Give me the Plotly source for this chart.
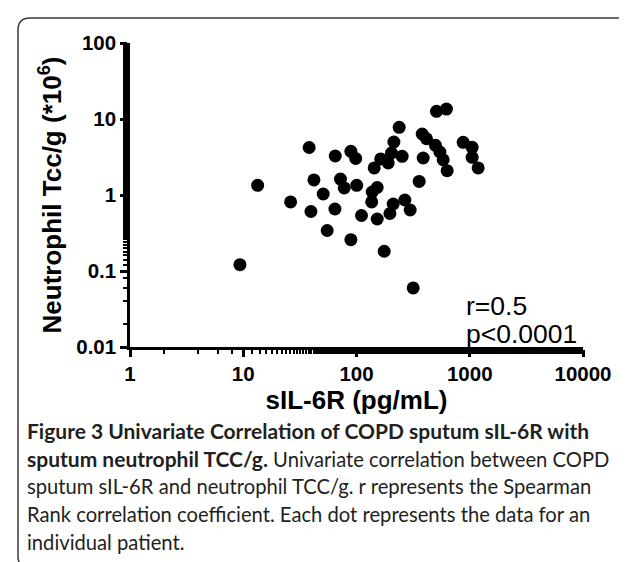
import plotly.graph_objects as go

# sIL-6R (pg/mL) and neutrophil TCC/g (*10^6)
sil6r = [9.35, 13.4, 26.2, 38.2, 42.1, 39.6, 50.8, 55.1, 64.9, 72.2,
         77.9, 64.5, 89.2, 98.4, 100.4, 89.2, 110.7, 137.6, 152.3, 136.2,
         152.3, 143.3, 163.6, 190.5, 203.7, 213.9, 238.2, 253.0, 210.9, 197.2,
         267.3, 297.8, 175.6, 316.5, 357.5, 387.9, 380.2, 415.0, 498.0, 544.7,
         582.4, 631.7, 508.5, 622.7, 874.5, 1050.0, 1050.0, 1186.0]
neut_tcc = [0.121, 1.34, 0.81, 4.22, 1.58, 0.607, 1.03, 0.341, 3.26, 1.62,
            1.24, 0.654, 3.76, 3.02, 1.34, 0.258, 0.537, 1.095, 1.255, 0.81,
            0.483, 2.27, 2.98, 2.64, 3.57, 4.98, 7.78, 3.23, 0.761, 0.571,
            0.86, 0.635, 0.182, 0.0598, 1.51, 3.07, 6.35, 5.5, 4.51, 3.68,
            2.91, 2.09, 12.6, 13.5, 4.94, 4.24, 3.13, 2.27]

x_ticks = [1, 10, 100, 1000, 10000]
x_tick_labels = ["1", "10", "100", "1000", "10000"]
y_ticks = [0.01, 0.1, 1, 10, 100]
y_tick_labels = ["0.01", "0.1", "1", "10", "100"]

stats_lines = ["r=0.5", "p<0.0001"]
B0 = '<span style="font-size:21px"><b>'
B1 = '</b></span>'
caption_lines = [
    B0 + "Figure 3 Univariate Correlation of COPD sputum sIL-6R with" + B1,
    B0 + "sputum neutrophil TCC/g." + B1 + " Univariate correlation between COPD",
    "sputum sIL-6R and neutrophil TCC/g. r represents the Spearman",
    "Rank correlation coefficient. Each dot represents the data for an",
    "individual patient.",
]

W, H = 627, 562
L, R, T, B = 122, 52, 35, 223
PW, PH = W - L - R, H - T - B


def px(xp):
    return (xp - L) / PW


def py(yp):
    return (H - B - yp) / PH


ARIAL = "Liberation Sans, Arial, sans-serif"
axis_font = dict(family=ARIAL, size=20.5, color="black", weight="bold")

fig = go.Figure()
fig.add_trace(go.Scatter(
    x=sil6r, y=neut_tcc, mode="markers",
    marker=dict(size=13, color="black", line=dict(width=0)),
    hoverinfo="x+y",
))

fig.update_xaxes(
    type="log", range=[0, 4], tickvals=x_ticks, ticktext=x_tick_labels,
    showline=True, linecolor="black", linewidth=2.5, mirror=False,
    ticks="outside", ticklen=7, tickwidth=2.5, tickcolor="black",
    minor=dict(ticks="outside", ticklen=4, tickwidth=2, tickcolor="black", showgrid=False),
    showgrid=False, zeroline=False, tickfont=axis_font,
    title=dict(text="<b>sIL-6R (pg/mL)</b>", font=dict(family=ARIAL, size=26, color="black"), standoff=6),
)
fig.update_yaxes(
    type="log", range=[-2, 2], tickvals=y_ticks, ticktext=y_tick_labels,
    showline=True, linecolor="black", linewidth=2.5, mirror=False,
    ticks="outside", ticklen=7, tickwidth=2.5, tickcolor="black",
    minor=dict(ticks="outside", ticklen=4, tickwidth=2, tickcolor="black", showgrid=False),
    showgrid=False, zeroline=False, tickfont=axis_font,
    title=dict(text="<b>Neutrophil Tcc/g (*10<sup>6</sup>)</b>", font=dict(family=ARIAL, size=26, color="black"), standoff=8),
)

annotations = []
for i, t in enumerate(stats_lines):
    annotations.append(dict(
        text=t, xref="paper", yref="paper", x=px(457), y=py(298 + 28 * i),
        xanchor="left", yanchor="middle", showarrow=False, borderpad=0,
        font=dict(family=ARIAL, size=26.5, color="black"),
    ))
for i, t in enumerate(caption_lines):
    annotations.append(dict(
        text=t, xref="paper", yref="paper", x=px(17), y=py(422 + 28 * i),
        xanchor="left", yanchor="middle", showarrow=False,
        font=dict(family="Lato, Open Sans, sans-serif", size=20.2, color="#231f20"),
    ))

# rounded frame around the figure
x0, y0, x1, y1, r = px(10), py(10), px(624), py(560), 12
rx, ry = r / PW, r / PH
path = (f"M {x0},{y1 + ry} L {x0},{y0 - ry} Q {x0},{y0} {x0 + rx},{y0} "
        f"L {x1 - rx},{y0} Q {x1},{y0} {x1},{y0 - ry} L {x1},{y1 + ry} "
        f"Q {x1},{y1} {x1 - rx},{y1} L {x0 + rx},{y1} Q {x0},{y1} {x0},{y1 + ry} Z")
fig.add_shape(type="path", path=path, xref="paper", yref="paper",
              line=dict(color="#3a3a3a", width=1.5), fillcolor="rgba(0,0,0,0)", layer="below")

fig.update_layout(
    width=W, height=H, margin=dict(l=L, r=R, t=T, b=B, autoexpand=False),
    plot_bgcolor="white", paper_bgcolor="white", showlegend=False,
    annotations=annotations,
)

fig.write_html("out.html")
